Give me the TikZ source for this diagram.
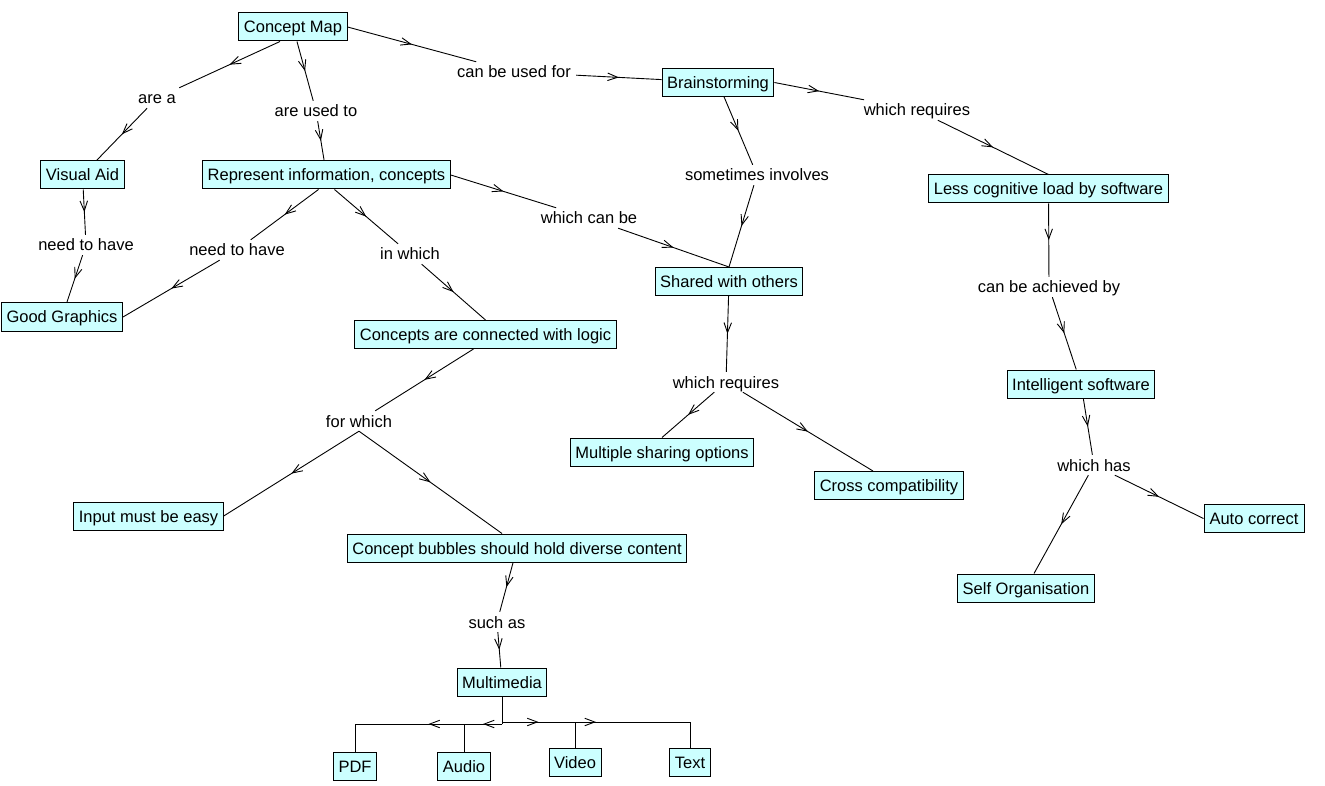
\documentclass[tikz,border=0pt]{standalone}
\usepackage{fontspec}
\setmainfont{Liberation Sans}
\usetikzlibrary{arrows.meta,decorations.markings,calc}
\definecolor{cmfill}{RGB}{204,255,255}
\tikzset{
  concept/.style={draw=black, fill=cmfill, line width=1pt, font=\fontsize{16.5}{19}\selectfont,
    text height=12pt, text depth=0pt, inner xsep=5pt, inner ysep=0pt, minimum height=28pt},
  lbl/.style={font=\fontsize{16.5}{19}\selectfont, text height=12pt, text depth=0pt,
    inner xsep=5pt, inner ysep=4pt},
  link/.style={line width=0.9pt, postaction={decorate},
    decoration={markings, mark=at position 0.5 with {\arrow{Straight Barb[length=10pt,width=7.5pt,line width=0.9pt]}}}},
  plainlink/.style={line width=0.9pt},
}
\begin{document}
\begin{tikzpicture}[x=1pt,y=-1pt]
\fill[white] (0,0) rectangle (1325,786);
\useasboundingbox (0,0) rectangle (1325,786);

% concepts
\node[concept, minimum width=106pt] (cm)  at (293,27)    {Concept Map};
\node[concept, minimum width=110pt] (bs)  at (718,82.5)  {Brainstorming};
\node[concept, minimum width=83pt]  (va)  at (82.5,175)  {Visual Aid};
\node[concept, minimum width=247pt] (rep) at (326.5,175) {Represent information, concepts};
\node[concept, minimum width=237pt] (lc)  at (1048.5,189) {Less cognitive load by software};
\node[concept, minimum width=120pt] (gg)  at (62,317)    {Good Graphics};
\node[concept, minimum width=146pt] (sh)  at (729,281.5) {Shared with others};
\node[concept, minimum width=259pt] (cc)  at (485.5,334.5) {Concepts are connected with logic};
\node[concept, minimum width=144pt] (is)  at (1081,384)  {Intelligent software};
\node[concept, minimum width=182pt] (mso) at (662,452)   {Multiple sharing options};
\node[concept, minimum width=148pt] (cr)  at (889,485.5) {Cross compatibility};
\node[concept, minimum width=147pt] (inp) at (148.5,516) {Input must be easy};
\node[concept, minimum width=100pt] (ac)  at (1254,518.5) {Auto correct};
\node[concept, minimum width=336pt] (cb)  at (517,548)   {Concept bubbles should hold diverse content};
\node[concept, minimum width=136pt] (so)  at (1026,588)  {Self Organisation};
\node[concept, minimum width=88pt]  (mm)  at (502,682)   {Multimedia};
\node[concept, minimum width=42pt]  (pdf) at (355,766)   {PDF};
\node[concept, minimum width=52pt]  (aud) at (464,766)   {Audio};
\node[concept, minimum width=52pt]  (vid) at (575,762)   {Video};
\node[concept, minimum width=38pt]  (txt) at (690,762)   {Text};

% linking phrases
\node[lbl] (la)   at (157,98)    {are a};
\node[lbl] (lu)   at (316,111)   {are used to};
\node[lbl] (lf)   at (514,72)    {can be used for};
\node[lbl] (lr)   at (917,110)   {which requires};
\node[lbl] (ls)   at (757,175)   {sometimes involves};
\node[lbl] (ln1)  at (86,245)    {need to have};
\node[lbl] (ln2)  at (237,250)   {need to have};
\node[lbl] (li)   at (410,254)   {in which};
\node[lbl] (lw)   at (589,218)   {which can be};
\node[lbl] (lach) at (1049,287)  {can be achieved by};
\node[lbl] (lr2)  at (726,382)   {which requires};
\node[lbl] (lfw)  at (359,421)   {for which};
\node[lbl] (lh)   at (1094,465)  {which has};
\node[lbl] (lsa)  at (497,622)   {such as};

% connectors
\draw[link] ([xshift=-13pt]cm.south) -- (la);
\draw[link] (la) -- (va);
\draw[link] (cm) -- (lu);
\draw[link] (lu) -- (rep);
\draw[link] (cm.east) -- (lf);
\draw[link] (lf) -- (bs);
\draw[link] (bs.east) -- (lr);
\draw[link] (lr) -- (lc.north);
\draw[link] (bs) -- (ls);
\draw[link] (ls) -- (sh.north);
\draw[link] (rep.east) -- (lw);
\draw[link] (lw) -- (sh.north);
\draw[link] (va) -- (ln1);
\draw[link] (ln1) -- (gg);
\draw[link] ([xshift=-8pt]rep.south) -- (ln2);
\draw[link] (ln2) -- (gg.east);
\draw[link] ([xshift=8pt]rep.south) -- (li);
\draw[link] (li) -- (cc.north);
\draw[link] ([xshift=-12pt]cc.south) -- (lfw);
\draw[link] (lfw.south) -- (inp.east);
\draw[link] (lfw.south) -- ([xshift=-15pt]cb.north);
\draw[link] (cb) -- (lsa);
\draw[link] (lsa) -- (mm);
\draw[link] (sh) -- (lr2);
\draw[link] (lr2) -- (mso.north);
\draw[link] (lr2) -- ([xshift=-16pt]cr.north);
\draw[link] (lc) -- (lach);
\draw[link] (lach) -- (is);
\draw[link] (is) -- (lh);
\draw[link] (lh) -- (ac.west);
\draw[link] (lh) -- (so);

% multimedia tree
\coordinate (jl) at (502,724);
\coordinate (jr) at (502,722);
\coordinate (cpdf) at (355,724);
\coordinate (caud) at (464,724);
\coordinate (cvid) at (575,722);
\coordinate (ctxt) at (690,722);
\draw[plainlink] (mm.south) -- (jl);
\draw[plainlink] (mm.south) -- (jr);
\draw[link] (jl) -- (cpdf);
\draw[plainlink] (cpdf) -- (cpdf |- pdf.north);
\draw[link] (jl) -- (caud);
\draw[plainlink] (caud) -- (caud |- aud.north);
\draw[link] (jr) -- (cvid);
\draw[plainlink] (cvid) -- (cvid |- vid.north);
\draw[link] (jr) -- (ctxt);
\draw[plainlink] (ctxt) -- (ctxt |- txt.north);
\end{tikzpicture}
\end{document}
